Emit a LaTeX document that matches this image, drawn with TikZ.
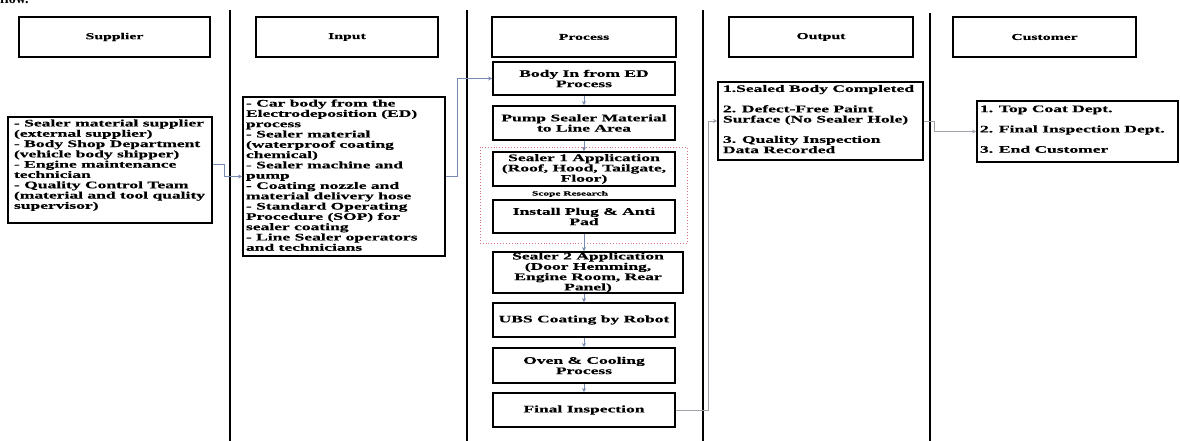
\documentclass[tikz,border=0pt]{standalone}
\usepackage{fontspec}
\setmainfont{Liberation Serif}[FakeStretch=1.75,BoldFeatures={FakeBold=0.4}]
\newfontfamily\plainserif{Liberation Serif}
\usetikzlibrary{arrows.meta,calc}
\definecolor{connc}{RGB}{120,138,178}
\definecolor{grayc}{RGB}{160,162,170}
\definecolor{scopec}{RGB}{215,115,130}
\begin{document}
\begin{tikzpicture}[x=1pt,y=-1pt,
  box/.style={draw=black,line width=1.8pt,inner sep=0pt,
    font=\bfseries\fontsize{10}{10.3}\selectfont},
  hdr/.style={box,font=\bfseries\fontsize{9}{10}\selectfont,minimum height=40pt},
  pbox/.style={box,minimum width=182pt,align=center},
  divider/.style={draw=black,line width=1.9pt},
  conn/.style={draw=connc,line width=0.8pt,-{Stealth[length=4pt,width=4pt]}},
  gconn/.style={draw=grayc,line width=0.8pt,-{Stealth[length=4pt,width=4pt]}},
  scopebox/.style={draw=scopec,dotted,line width=0.9pt},
  lbl/.style={font=\bfseries\fontsize{6.5}{7}\selectfont,inner sep=0pt}]
\useasboundingbox (0,0) rectangle (1180,441);
\fill[white] (0,0) rectangle (1180,441);
\begin{scope}
\clip (0,0) rectangle (1180,441);
\node[anchor=base west,inner sep=0pt,font=\plainserif\bfseries\fontsize{14}{16}\selectfont] (flow) at (0,4) {flow.};
\end{scope}

% column dividers
\draw[divider] (230,10) -- (230,441);
\draw[divider] (467,10) -- (467,441);
\draw[divider] (703,10) -- (703,441);
\draw[divider] (930,13) -- (930,441);

% headers
\node[hdr,minimum width=191pt] (hs) at (114.5,37) {Supplier};
\node[hdr,minimum width=182pt] (hi) at (347,37) {Input};
\node[hdr,minimum width=184pt] (hp) at (584,37) {Process};
\node[hdr,minimum width=184pt] (ho) at (821,37) {Output};
\node[hdr,minimum width=183pt] (hc) at (1044.5,37) {Customer};

% supplier
\node[box,minimum width=204pt,minimum height=106pt] (sup) at (110,170)
 {\parbox[c][101pt][t]{192pt}{\raggedright
  - Sealer material supplier\\
  (external supplier)\\
  - Body Shop Department\\
  (vehicle body shipper)\\
  - Engine maintenance\\
  technician\\
  - Quality Control Team\\
  (material and tool quality\\
  supervisor)}};

% input
\node[box,minimum width=202pt,minimum height=159pt] (inp) at (344,176.5)
 {\parbox[c][154pt][t]{196pt}{\raggedright
  - Car body from the\\
  Electrodeposition (ED)\\
  process\\
  - Sealer material\\
  (waterproof coating\\
  chemical)\\
  - Sealer machine and\\
  pump\\
  - Coating nozzle and\\
  material delivery hose\\
  - Standard Operating\\
  Procedure (SOP) for\\
  sealer coating\\
  - Line Sealer operators\\
  and technicians}};

% process
\draw[scopebox] (480,147) rectangle (687,243);
\node[pbox,minimum height=33pt] (p1) at (584,78.5) {Body In from ED\\Process};
\node[pbox,minimum height=34pt] (p2) at (584,123) {Pump Sealer Material\\to Line Area};
\node[pbox,minimum height=34pt] (p3) at (584,169) {Sealer 1 Application\\(Roof, Hood, Tailgate,\\Floor)};
\node[lbl] (scope) at (570,194) {Scope Research};
\node[pbox,minimum height=33pt] (p4) at (584,216.5) {Install Plug \& Anti\\Pad};
\node[pbox,minimum width=190pt,minimum height=41pt] (p5) at (588,272.5) {Sealer 2 Application\\(Door Hemming,\\Engine Room, Rear\\Panel)};
\node[pbox,minimum height=34pt] (p6) at (584,320) {UBS Coating by Robot};
\node[pbox,minimum height=35pt] (p7) at (584,365.5) {Oven \& Cooling\\Process};
\node[pbox,minimum height=34pt] (p8) at (584,410) {Final Inspection};

\draw[conn] (p1.south) -- (p2.north);
\draw[conn] (p2.south) -- (p3.north);
\draw[conn] (p4.south) -- (p4.south |- p5.north);
\draw[conn] (p5.south -| p6.north) -- (p6.north);
\draw[conn] (p6.south) -- (p7.north);
\draw[conn] (p7.south) -- (p8.north);

% output
\node[box,minimum width=205pt,minimum height=78pt] (out) at (820.5,121)
 {\parbox[c][72pt][t]{195pt}{\raggedright
  1.Sealed Body Completed\\[10pt]
  2. Defect-Free Paint\\
  Surface (No Sealer Hole)\\[10pt]
  3. Quality Inspection\\
  Data Recorded}};

% customer
\node[box,minimum width=201pt,minimum height=61pt] (cus) at (1077.5,131.5)
 {\parbox[c][52pt][t]{195pt}{\raggedright
  1. Top Coat Dept.\\[10pt]
  2. Final Inspection Dept.\\[10pt]
  3. End Customer}};

% connectors between columns
\draw[conn] ([yshift=6pt]sup.east) -- ++(11,0) |- (inp.west);
\draw[conn] (inp.east) -- ++(11,0) |- (p1.west);
\draw[gconn] (p8.east) -- ++(32,0) |- (out.west);
\draw[gconn] (out.east) -- ++(10,0) |- (cus.west);
\end{tikzpicture}
\end{document}
